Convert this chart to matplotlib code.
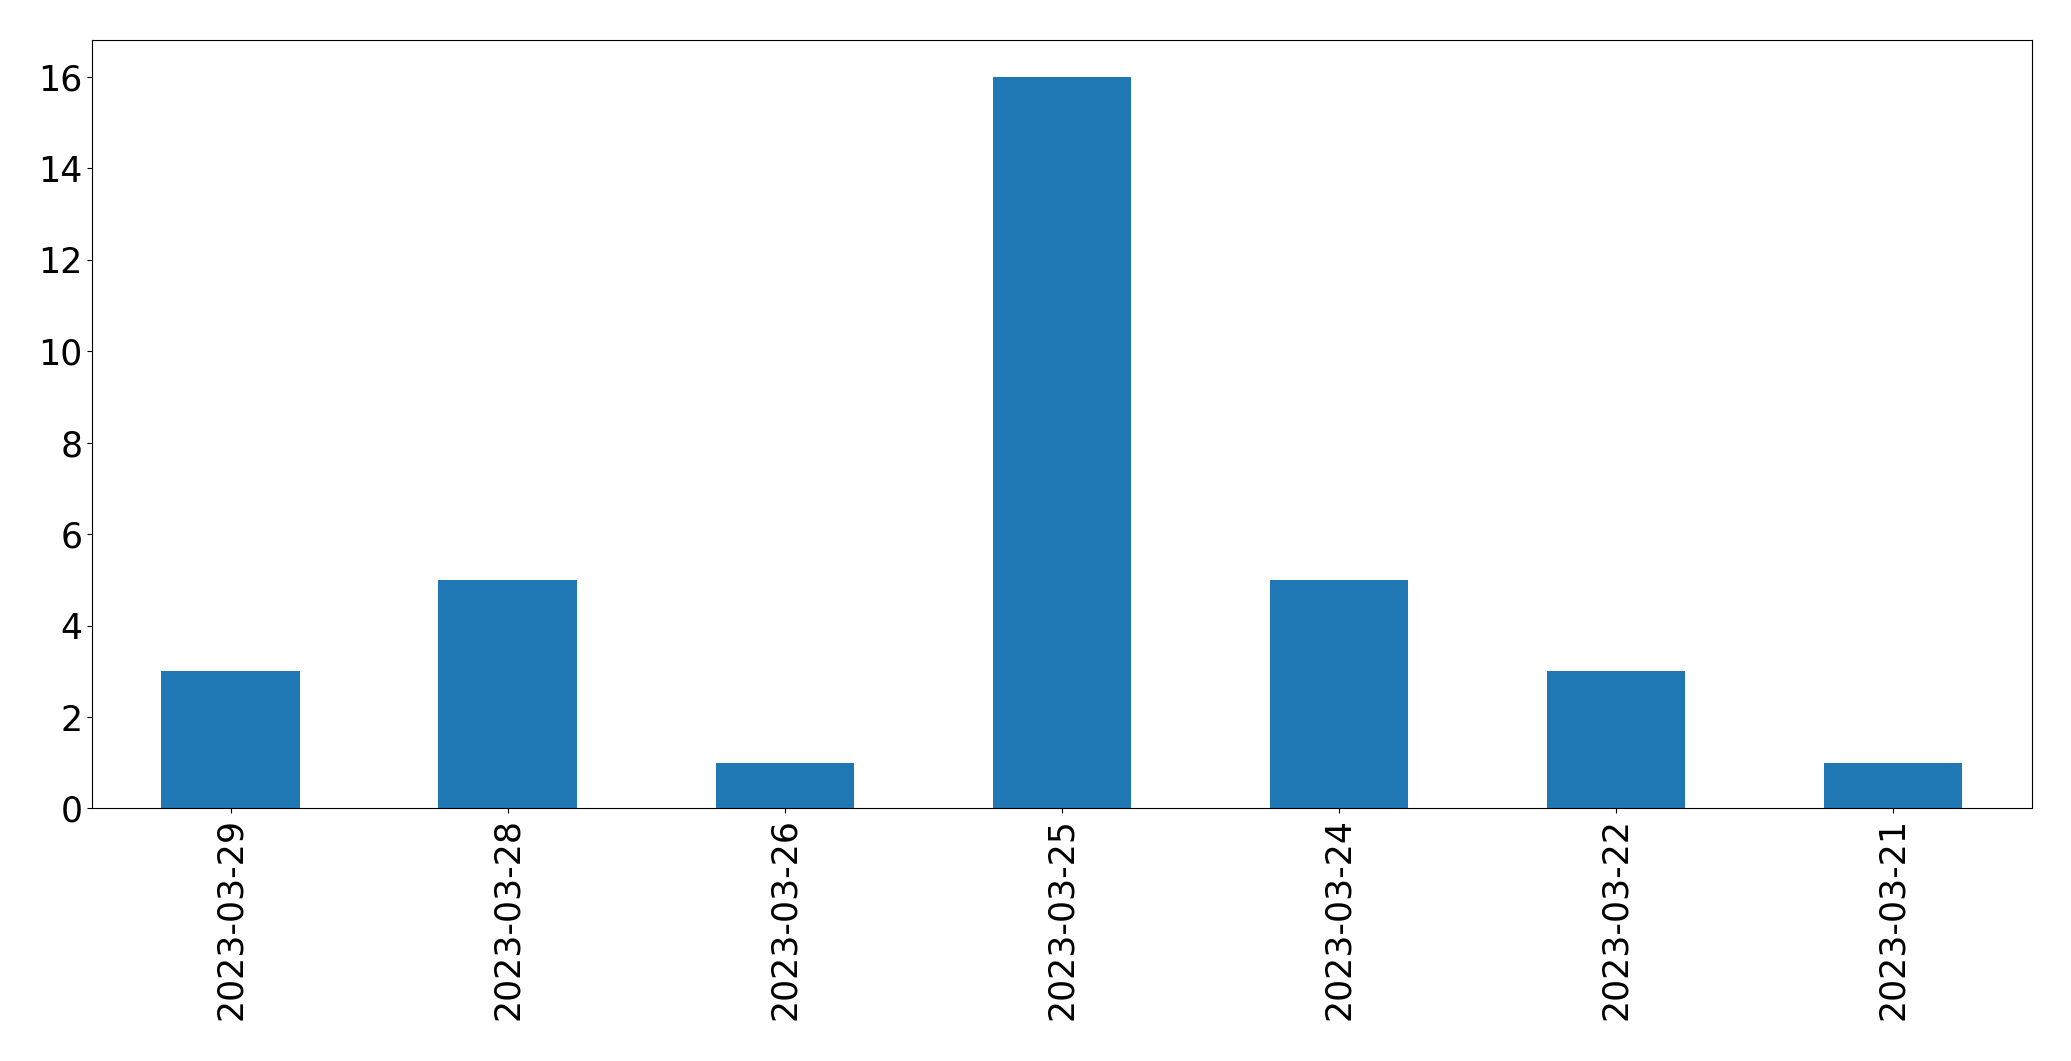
import matplotlib
matplotlib.use("Agg")
import matplotlib.pyplot as plt
import pandas as pd

dates = ["2023-03-29", "2023-03-28", "2023-03-26", "2023-03-25",
         "2023-03-24", "2023-03-22", "2023-03-21"]
counts = [3, 5, 1, 16, 5, 3, 1]

s = pd.Series(counts, index=dates)

fig = plt.figure(figsize=(20.71, 10.61), dpi=100)
ax = fig.add_axes([0.0445, 0.238, 0.9365, 0.724])
s.plot(kind="bar", ax=ax, color="#1f77b4")
ax.tick_params(labelsize=25)

fig.savefig("out.png", dpi=100)
